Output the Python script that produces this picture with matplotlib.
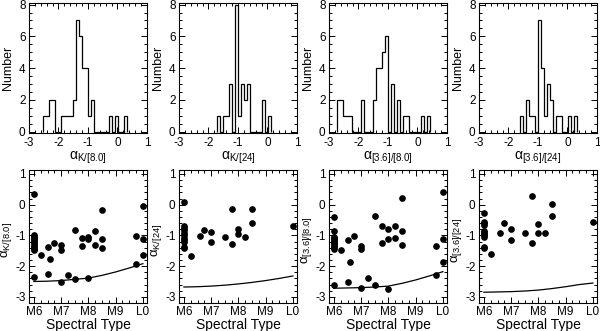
import matplotlib
matplotlib.use('Agg')
import matplotlib.pyplot as plt
import numpy as np
from matplotlib.ticker import MultipleLocator

plt.rcParams['font.family'] = ['Liberation Sans', 'DejaVu Sans']
plt.rcParams['mathtext.fontset'] = 'custom'
plt.rcParams['mathtext.rm'] = 'Liberation Sans'
plt.rcParams['mathtext.it'] = 'Liberation Sans:italic'
plt.rcParams['axes.unicode_minus'] = False

# ---------------- data ----------------
labels = [r'α$_{\rm K/[8.0]}$', r'α$_{\rm K/[24]}$',
          r'α$_{\rm [3.6]/[8.0]}$', r'α$_{\rm [3.6]/[24]}$']

# histograms: first bin edge, bin width, counts per bin
hist_start = [-2.52, -1.72, -2.73, -1.60]
hist_width = [0.102, 0.102, 0.102, 0.102]
counts_k8 = [1, 1, 2, 2, 0, 0, 1, 1, 1, 1, 2, 7, 6, 4, 4, 1, 2, 0, 0, 0, 0, 0, 1, 0, 1, 0, 0, 1]
counts_k24 = [1, 0, 1, 1, 3, 0, 8, 1, 3, 2, 3, 0, 0, 0, 0, 2, 0, 1]
counts_i8 = [2, 2, 1, 1, 1, 0, 0, 0, 2, 0, 0, 0, 2, 4, 4, 5, 6, 0, 3, 0, 2, 0, 1, 1, 0, 0, 0, 0, 1, 0, 1]
counts_i24 = [1, 0, 2, 1, 1, 0, 7, 4, 1, 3, 2, 0, 1, 1, 0, 0, 1, 0, 1]

# spectral types (M6=6 ... L0=10)
spt_tick_vals = [6, 7, 8, 9, 10]
spt_tick_labels = ['M6', 'M7', 'M8', 'M9', 'L0']

spt_8 = [6]*13 + [6.25, 6.5, 6.5, 6.6, 6.75, 7, 7, 7, 7.25, 7.5, 7.5, 7.75, 7.75,
                  8, 8, 8, 8.25, 8.25, 8.5, 8.5, 8.5, 9.75, 9.75, 10, 10, 10]
alpha_k8 = [0.35, -0.98, -1.03, -1.08, -1.13, -1.18, -1.23, -1.28, -1.33, -1.38, -1.43, -1.49, -2.34,
            -1.65, -1.38, -2.27, -1.76, -1.26, -1.30, -1.48, -2.53, -2.29, -0.84, -2.42, -1.08, -1.36,
            -1.04, -1.11, -2.38, -0.87, -1.32, -0.18, -1.13, -1.40, -1.03, -1.93, -0.04, -1.13, -1.65]
alpha_i8 = [-0.40, -0.85, -1.04, -1.09, -1.13, -1.17, -1.21, -1.25, -1.29, -1.34, -1.39, -1.45, -2.63,
            -1.47, -1.14, -2.53, -1.88, -1.02, -1.33, -1.43, -2.72, -2.40, -0.38, -2.62, -0.68, -1.26,
            -0.80, -1.11, -2.74, -0.70, -1.09, 0.22, -0.87, -1.31, -1.35, -2.28, 0.42, -1.13, -1.88]

spt_24 = [6]*11 + [6.25, 6.6, 6.75, 7, 7, 7.5, 7.75, 7.75, 8, 8, 8.25, 8.5, 8.5, 10]
alpha_k24 = [0.08, -0.68, -0.76, -0.84, -0.92, -1.0, -1.08, -1.15, -1.22, -1.38, -1.42,
             -1.67, -1.02, -0.83, -0.88, -1.22, -1.06, -0.13, -1.29, -0.79, -0.96, -1.06,
             -0.15, -0.60, -0.68]
alpha_i24 = [-0.28, -0.55, -0.60, -0.65, -0.85, -0.90, -0.95, -1.0, -1.05, -1.37, -1.41,
             -1.62, -0.91, -0.60, -0.80, -1.14, -0.93, 0.28, -1.24, -0.64, -0.93, -0.93,
             0.03, -0.37, -0.56]
# photosphere lines
line_spt = [6, 6.5, 7, 7.5, 8, 8.5, 9, 9.5, 10]
line_k8 = [-2.50, -2.49, -2.47, -2.43, -2.39, -2.30, -2.19, -2.06, -1.92]
line_k24 = [-2.68, -2.67, -2.65, -2.62, -2.58, -2.53, -2.47, -2.40, -2.32]
line_i8 = [-2.72, -2.71, -2.70, -2.68, -2.65, -2.56, -2.45, -2.32, -2.18]
line_i24 = [-2.85, -2.84, -2.83, -2.81, -2.78, -2.73, -2.67, -2.60, -2.55]

hist_counts = [counts_k8, counts_k24, counts_i8, counts_i24]
scat_x = [spt_8, spt_24, spt_8, spt_24]
scat_y = [alpha_k8, alpha_k24, alpha_i8, alpha_i24]
line_y = [line_k8, line_k24, line_i8, line_i24]

# ---------------- figure ----------------
fig = plt.figure(figsize=(6.0, 3.31), dpi=100)
lefts = [0.0483, 0.2983, 0.5483, 0.7983]
w = 0.1967
fs = 8.5

def style(ax):
    ax.tick_params(which='both', direction='in', top=True, right=True,
                   labelsize=fs, width=0.7, pad=2.5)
    ax.tick_params(which='major', length=4)
    ax.tick_params(which='minor', length=2)
    for s in ax.spines.values():
        s.set_linewidth(0.8)

for i in range(4):
    ax = fig.add_axes([lefts[i], 0.598, w, 0.393])
    c = np.array(hist_counts[i])
    edges = hist_start[i] + hist_width[i] * np.arange(len(c) + 1)
    ax.stairs(c, edges, baseline=0, color='black', lw=0.9)
    ax.set_xlim(-3, 1)
    ax.set_ylim(-0.08, 8.1)
    ax.xaxis.set_major_locator(MultipleLocator(1))
    ax.xaxis.set_minor_locator(MultipleLocator(0.2))
    ax.yaxis.set_major_locator(MultipleLocator(2))
    ax.yaxis.set_minor_locator(MultipleLocator(0.5))
    style(ax)
    ax.set_ylabel('Number', fontsize=fs + 0.5)
    ax.yaxis.set_label_coords(-0.125, 0.5)
    ax.set_xlabel(labels[i], fontsize=fs + 1.5, labelpad=1)

    bx = fig.add_axes([lefts[i], 0.0846, w, 0.402])
    bx.plot(line_spt, line_y[i], color='black', lw=0.9)
    bx.plot(scat_x[i], scat_y[i], 'o', color='black', ms=3.8, mec='black')
    bx.set_xlim(5.82, 10.15)
    bx.set_ylim(-3.2, 1.13)
    bx.set_xticks(spt_tick_vals)
    bx.set_xticklabels(spt_tick_labels)
    bx.xaxis.set_minor_locator(MultipleLocator(0.25))
    bx.yaxis.set_major_locator(MultipleLocator(1))
    bx.yaxis.set_minor_locator(MultipleLocator(0.2))
    style(bx)
    bx.set_xlabel('Spectral Type', fontsize=fs + 1.5, labelpad=-0.5)
    bx.set_ylabel(labels[i], fontsize=fs + 1)
    bx.yaxis.set_label_coords(-0.13, 0.47)

fig.savefig('out.png', dpi=100)
